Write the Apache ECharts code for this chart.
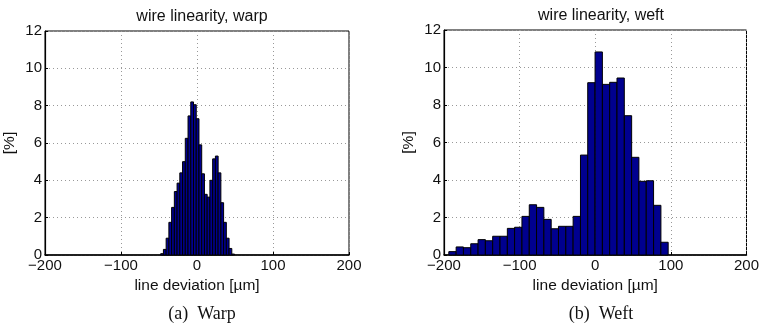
<!DOCTYPE html>
<html>
<head>
<meta charset="utf-8">
<script src="https://cdn.jsdelivr.net/npm/echarts@6/dist/echarts.min.js"></script>
<style>
  html, body { margin: 0; padding: 0; background: #fff; }
  #chart { width: 762px; height: 331px; }
</style>
</head>
<body>
<div id="chart"></div>
<script>
// warp histogram: bin centres [µm] and share [%]
const warpCenters = [-46.0, -42.4, -38.8, -35.2, -31.6, -28.0, -24.4, -20.8, -17.2, -13.6,
  -10.0, -6.4, -2.8, 0.8, 4.4, 8.0, 11.6, 15.2, 18.8, 22.4,
  26.0, 29.6, 33.2, 36.8, 40.4, 44.0, 47.6];
const warpValues = [0.07, 0.3, 0.9, 1.75, 2.55, 3.4, 3.85, 4.4, 5.0, 6.25,
  7.45, 8.2, 8.05, 7.3, 5.9, 4.35, 3.25, 3.1, 4.0, 5.15,
  5.3, 4.4, 2.8, 1.75, 0.9, 0.35, 0.05];
const warpBinWidth = 3.6;

// weft histogram
const weftCenters = [-188.8, -179.1, -169.5, -159.8, -150.1, -140.5, -130.8, -121.1, -111.4, -101.8,
  -92.1, -82.4, -72.8, -63.1, -53.4, -43.8, -34.1, -24.4, -14.7, -5.1,
  4.6, 14.3, 23.9, 33.6, 43.3, 52.9, 62.6, 72.3, 82.0, 91.6];
const weftValues = [0.18, 0.43, 0.39, 0.6, 0.82, 0.76, 1.0, 1.0, 1.42, 1.48,
  2.06, 2.68, 2.54, 1.9, 1.4, 1.53, 1.53, 2.06, 5.33, 9.19,
  10.83, 9.1, 9.21, 9.44, 7.43, 5.21, 3.93, 3.96, 2.65, 0.68];
const weftBinWidth = 9.67;

const xTicks = [-200, -100, 0, 100, 200];
const yTicks = [0, 2, 4, 6, 8, 10, 12];

const chart = echarts.init(document.getElementById('chart'));

const sans = 'Liberation Sans, Arial, Helvetica, sans-serif';
const serif = 'Liberation Serif, Times New Roman, serif';

function binRenderer(binWidth) {
  return function (params, api) {
    const x = api.value(0);
    const y = api.value(1);
    const topLeft = api.coord([x - binWidth / 2, y]);
    const bottomRight = api.coord([x + binWidth / 2, 0]);
    return {
      type: 'rect',
      shape: {
        x: topLeft[0],
        y: topLeft[1],
        width: bottomRight[0] - topLeft[0],
        height: bottomRight[1] - topLeft[1]
      },
      style: { fill: '#00008f', stroke: '#000', lineWidth: 1 }
    };
  };
}

function makeX(gridIndex) {
  return {
    type: 'value',
    gridIndex: gridIndex,
    min: xTicks[0],
    max: xTicks[xTicks.length - 1],
    interval: 100,
    name: 'line deviation [µm]',
    nameLocation: 'middle',
    nameGap: 23,
    nameTextStyle: { fontFamily: sans, fontSize: 15.5, color: '#111' },
    axisLine: { show: true, onZero: false, lineStyle: { color: '#000', width: 1.5 } },
    axisTick: { show: true, inside: true, length: 3, lineStyle: { color: '#000' } },
    axisLabel: {
      fontFamily: sans, fontSize: 15, color: '#111', margin: 3,
      formatter: v => String(v).replace('-', '\u2212')
    },
    splitLine: { show: true, lineStyle: { color: '#999', type: [1, 3], width: 1 } }
  };
}

function makeY(gridIndex) {
  return {
    type: 'value',
    gridIndex: gridIndex,
    min: yTicks[0],
    max: yTicks[yTicks.length - 1],
    interval: 2,
    name: '[%]',
    nameLocation: 'middle',
    nameGap: 27,
    nameTextStyle: { fontFamily: sans, fontSize: 15.5, color: '#111' },
    axisLine: { show: true, onZero: false, lineStyle: { color: '#000', width: 1.2 } },
    axisTick: { show: true, inside: true, length: 3, lineStyle: { color: '#000' } },
    axisLabel: { fontFamily: sans, fontSize: 15, color: '#111', margin: 3 },
    splitLine: { show: true, lineStyle: { color: '#999', type: [1, 3], width: 1 } }
  };
}

const option = {
  animation: false,
  backgroundColor: '#fff',
  title: [
    { text: 'wire linearity, warp', left: 197, top: 4, textAlign: 'center',
      textStyle: { fontFamily: sans, fontSize: 16, fontWeight: 'normal', color: '#111' } },
    { text: 'wire linearity, weft', left: 596, top: 3, textAlign: 'center',
      textStyle: { fontFamily: sans, fontSize: 16, fontWeight: 'normal', color: '#111' } },
    { text: '(a)  Warp', left: 197, top: 300, textAlign: 'center',
      textStyle: { fontFamily: serif, fontSize: 18, fontWeight: 'normal', color: '#111' } },
    { text: '(b)  Weft', left: 596, top: 300, textAlign: 'center',
      textStyle: { fontFamily: serif, fontSize: 18, fontWeight: 'normal', color: '#111' } }
  ],
  grid: [
    { left: 45, top: 31, width: 304, height: 224, show: true, borderColor: '#000', borderWidth: 1, backgroundColor: 'transparent' },
    { left: 444, top: 30, width: 304, height: 225, show: true, borderColor: '#000', borderWidth: 1, backgroundColor: 'transparent' }
  ],
  xAxis: [makeX(0), makeX(1)],
  yAxis: [makeY(0), makeY(1)],
  series: [
    {
      type: 'custom',
      xAxisIndex: 0,
      yAxisIndex: 0,
      renderItem: binRenderer(warpBinWidth),
      encode: { x: 0, y: 1 },
      data: warpCenters.map((c, i) => [c, warpValues[i]])
    },
    {
      type: 'custom',
      xAxisIndex: 1,
      yAxisIndex: 1,
      renderItem: binRenderer(weftBinWidth),
      encode: { x: 0, y: 1 },
      data: weftCenters.map((c, i) => [c, weftValues[i]])
    }
  ]
};

chart.setOption(option);
</script>
</body>
</html>
